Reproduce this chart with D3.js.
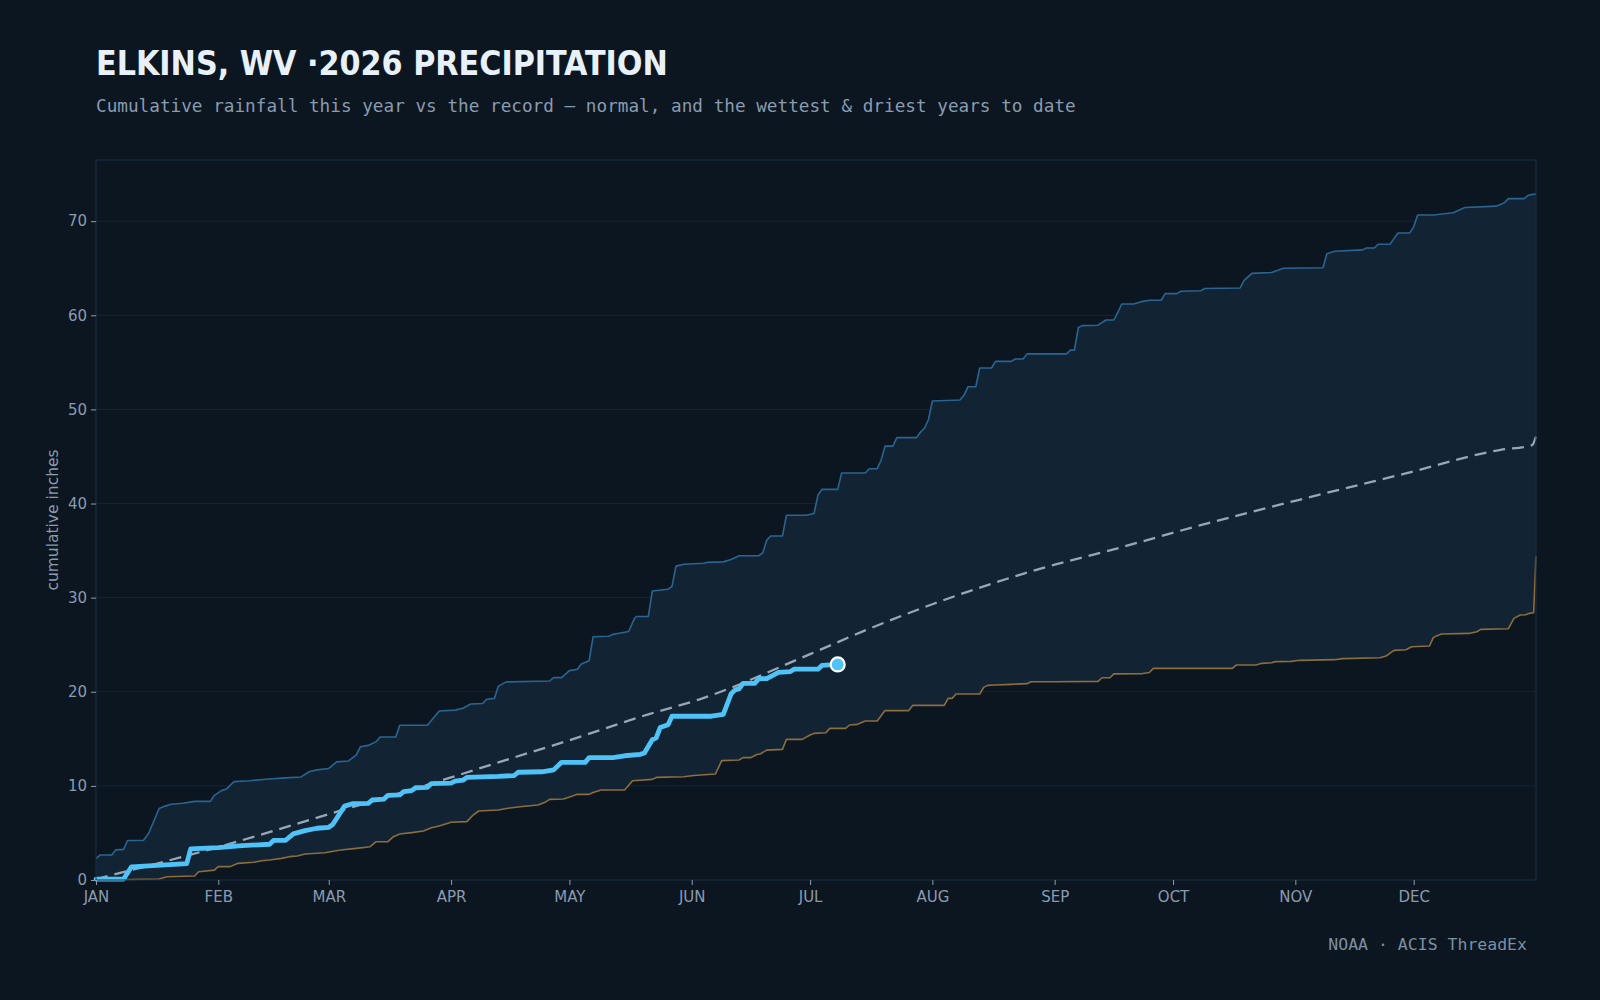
<!DOCTYPE html>
<html>
<head>
<meta charset="utf-8">
<script src="https://cdn.jsdelivr.net/npm/d3@7"></script>
<style>
  html, body { margin: 0; padding: 0; background: #0c1620; }
  svg { display: block; }
</style>
</head>
<body>
<div id="chart"></div>
<script>
// month ticks (day-of-year of each month start)
const monthStarts = [0, 31, 59, 90, 120, 151, 181, 212, 243, 273, 304, 334];
const monthLabels = ["JAN", "FEB", "MAR", "APR", "MAY", "JUN", "JUL", "AUG", "SEP", "OCT", "NOV", "DEC"];
const yTicks = [0, 10, 20, 30, 40, 50, 60, 70];

// [day of year, cumulative inches]
const thisYear = [
  [0, 0.1], [7, 0.1], [9, 1.4], [23, 1.75], [24, 3.3], [31, 3.45], [37, 3.65], [44, 3.8], [45, 4.2],
  [48, 4.2], [50, 4.9], [53, 5.25], [56, 5.5], [59, 5.6], [60, 5.9], [63, 7.85], [65, 8.1], [69, 8.15],
  [70, 8.5], [73, 8.6], [74, 9.0], [77, 9.05], [78, 9.4], [80, 9.5], [81, 9.8], [84, 9.85], [85, 10.25],
  [90, 10.3], [91, 10.5], [93, 10.6], [94, 10.9], [102, 11.0], [106, 11.1], [107, 11.45], [113, 11.5],
  [116, 11.7], [118, 12.5], [124, 12.5], [125, 13.0], [131, 13.0], [134, 13.2], [138, 13.35], [139, 13.5],
  [141, 14.9], [142, 15.1], [143, 16.2], [145, 16.5], [146, 17.4], [156, 17.4], [159, 17.6], [161, 19.8],
  [162, 20.2], [163, 20.3], [164, 20.9], [167, 20.9], [168, 21.4], [170, 21.4], [173, 22.05], [176, 22.15],
  [177, 22.4], [183, 22.4], [184, 22.8], [188, 22.9]
];

const normal = [
  [0, 0.1], [31, 3.5], [59, 7.0], [90, 10.9], [102, 12.5], [120, 14.85], [140, 17.6], [153, 19.2],
  [181, 24.0], [196, 26.7], [212, 29.3], [243, 33.5], [255, 34.8], [280, 37.7], [305, 40.4], [331, 43.1],
  [356, 45.7], [364, 46.2], [365, 47.1]
];

const wettest = [
  [0, 2.3], [1, 2.65], [4, 2.65], [5, 3.2], [7, 3.25], [8, 4.2], [12, 4.2], [13.4, 5.0], [14.8, 6.4],
  [16, 7.6], [17.5, 7.85], [19, 8.05], [22, 8.15], [25, 8.35], [29, 8.35], [30, 9.0], [32, 9.55], [33, 9.65],
  [35, 10.45], [39, 10.55], [43, 10.7], [48, 10.85], [52, 10.95], [54, 11.5], [56, 11.7], [59, 11.85],
  [61, 12.55], [64, 12.65], [66, 13.3], [67, 14.15], [69, 14.3], [71, 14.7], [72, 15.2], [76, 15.2],
  [77, 16.45], [84, 16.45], [87, 17.95], [91, 18.05], [93, 18.25], [95, 18.7], [98, 18.75], [99, 19.2],
  [101, 19.3], [102, 20.6], [104, 21.05], [115, 21.15], [116, 21.5], [118, 21.5], [120, 22.25], [122, 22.4],
  [123, 22.95], [125, 23.3], [126, 25.85], [130, 25.9], [131, 26.1], [133, 26.25], [135, 26.4], [136.5, 27.8],
  [137, 28.0], [140, 28.0], [141, 30.7], [145, 30.9], [146, 31.2], [147, 33.35], [149, 33.55], [154, 33.65],
  [155, 33.75], [159, 33.8], [161, 34.05], [163, 34.45], [168, 34.45], [169, 34.75], [170, 36.1], [171, 36.55],
  [174, 36.55], [175, 38.75], [180, 38.75], [182, 38.95], [183, 40.9], [184, 41.5], [188, 41.5], [189, 43.25],
  [195, 43.25], [196, 43.7], [198, 43.7], [199, 44.6], [200, 46.1], [202, 46.1], [203, 47.0], [208, 47.0],
  [209, 47.6], [210, 48.0], [211, 48.9], [212, 50.9], [219, 51.0], [220, 51.5], [221, 52.4], [223, 52.4],
  [224, 54.4], [227, 54.4], [228, 55.1], [232, 55.1], [233, 55.35], [235, 55.35], [236, 55.9], [246, 55.9],
  [247, 56.3], [248, 56.3], [249, 58.7], [250, 58.9], [254, 58.95], [256, 59.5], [258, 59.5], [259, 60.3],
  [260, 61.2], [263, 61.2], [265, 61.45], [267, 61.6], [270, 61.6], [271, 62.3], [274, 62.3], [275, 62.55],
  [280, 62.6], [281, 62.85], [290, 62.9], [291, 63.7], [293, 64.45], [298, 64.55], [301, 65.0], [311, 65.05],
  [312, 66.55], [314, 66.8], [321, 66.95], [322, 67.15], [324, 67.15], [325, 67.55], [328, 67.55], [329, 68.15],
  [330, 68.75], [333, 68.75], [334, 69.4], [335, 70.65], [339, 70.65], [344, 70.9], [347, 71.45], [355, 71.6],
  [357, 71.95], [358, 72.4], [362, 72.4], [363, 72.75], [365, 72.9]
];

const driest = [
  [0, 0], [16, 0.1], [18, 0.35], [25, 0.42], [26, 0.88], [30, 1.05], [31, 1.42], [34, 1.42], [36, 1.77],
  [40, 1.88], [42, 2.05], [44, 2.12], [47, 2.3], [49, 2.48], [51, 2.55], [53, 2.76], [58, 2.9], [62, 3.19],
  [66, 3.36], [69.5, 3.54], [71, 4.07], [74, 4.07], [75.4, 4.6], [77, 4.89], [80, 5.03], [83, 5.2], [85, 5.56],
  [87, 5.74], [90, 6.13], [94, 6.2], [95.6, 6.9], [97, 7.33], [102, 7.44], [104, 7.6], [107.5, 7.79], [112, 7.97],
  [114, 8.3], [115, 8.57], [118.5, 8.6], [120.6, 8.9], [122, 9.1], [125, 9.1], [126, 9.3], [128, 9.56],
  [134, 9.56], [136, 10.55], [141, 10.69], [142, 10.9], [149, 10.97], [151.5, 11.11], [157, 11.26],
  [158.6, 12.68], [163, 12.75], [164, 13.0], [166, 13.0], [167.5, 13.34], [168.3, 13.38], [170, 13.8],
  [174, 13.88], [175, 14.94], [179, 14.94], [181, 15.4], [182, 15.58], [185, 15.65], [186, 16.11], [190, 16.11],
  [191, 16.47], [193, 16.54], [195, 16.9], [198, 16.9], [200, 18.0], [206, 18.0], [207, 18.55], [215, 18.55],
  [216, 19.3], [217, 19.3], [218, 19.76], [224, 19.76], [225, 20.47], [226, 20.68], [228, 20.72], [232, 20.79],
  [236, 20.86], [237, 21.07], [243, 21.07], [254, 21.1], [255, 21.49], [257, 21.49], [258, 21.9], [265, 21.92],
  [267, 22.05], [268, 22.48], [288, 22.48], [289, 22.84], [294, 22.84], [295.5, 23.02], [298, 23.09],
  [299, 23.2], [303, 23.23], [305, 23.34], [314, 23.41], [316, 23.52], [325.5, 23.62], [327, 23.8], [329, 24.4],
  [332, 24.47], [333.5, 24.79], [338, 24.86], [339, 25.78], [341, 26.13], [348, 26.2], [350, 26.38],
  [351, 26.63], [358, 26.7], [359.4, 27.8], [361, 28.15], [362.4, 28.19], [363.3, 28.33], [364.4, 28.4],
  [365, 34.4]
];

const W = 1600, H = 1000;
const m = { top: 160, right: 64, bottom: 120, left: 96 };
const pw = W - m.left - m.right;
const ph = H - m.top - m.bottom;

const svg = d3.select("#chart").append("svg").attr("width", W).attr("height", H);
svg.append("rect").attr("width", W).attr("height", H).attr("fill", "#0c1620");

const x = d3.scaleLinear().domain([0, 365]).range([0, pw]);
const y = d3.scaleLinear().domain([0, 76.5]).range([ph, 0]);

const g = svg.append("g").attr("transform", `translate(${m.left},${m.top})`);

// gridlines
g.append("g")
  .selectAll("line")
  .data(yTicks.filter((d) => d > 0))
  .enter()
  .append("line")
  .attr("x1", 0)
  .attr("x2", pw)
  .attr("y1", (d) => y(d))
  .attr("y2", (d) => y(d))
  .attr("stroke", "#142636")
  .attr("stroke-width", 1);

const line = d3.line().x((d) => x(d[0])).y((d) => y(d[1]));

// record band: wettest forward, driest back
g.append("path")
  .attr("d", line(wettest.concat(driest.slice().reverse())) + "Z")
  .attr("fill", "#122334");

g.append("path")
  .datum(wettest)
  .attr("fill", "none")
  .attr("stroke", "#2a6592")
  .attr("stroke-width", 1.6)
  .attr("stroke-linejoin", "round")
  .attr("d", line);

g.append("path")
  .datum(driest)
  .attr("fill", "none")
  .attr("stroke", "#8c6d3e")
  .attr("stroke-width", 1.6)
  .attr("stroke-linejoin", "round")
  .attr("d", line);

g.append("path")
  .datum(normal)
  .attr("fill", "none")
  .attr("stroke", "#98a7b5")
  .attr("stroke-width", 2.3)
  .attr("stroke-dasharray", "12,7")
  .attr("d", line.curve(d3.curveMonotoneX));
line.curve(d3.curveLinear);

g.append("path")
  .datum(thisYear)
  .attr("fill", "none")
  .attr("stroke", "#4fc3f7")
  .attr("stroke-width", 4.8)
  .attr("stroke-linejoin", "round")
  .attr("stroke-linecap", "round")
  .attr("d", line);

const last = thisYear[thisYear.length - 1];
g.append("circle")
  .attr("cx", x(last[0]))
  .attr("cy", y(last[1]))
  .attr("r", 7)
  .attr("fill", "#4fc3f7")
  .attr("stroke", "#ffffff")
  .attr("stroke-width", 2.2);

// frame
g.append("rect")
  .attr("width", pw)
  .attr("height", ph)
  .attr("fill", "none")
  .attr("stroke", "#1a3044")
  .attr("stroke-width", 1);

// axes
const xAxis = d3.axisBottom(x)
  .tickValues(monthStarts)
  .tickFormat((d, i) => monthLabels[i])
  .tickSize(5)
  .tickPadding(6);
const yAxis = d3.axisLeft(y).tickValues(yTicks).tickSize(5).tickPadding(4);

const gx = g.append("g").attr("transform", `translate(0,${ph})`).call(xAxis);
const gy = g.append("g").call(yAxis);
[gx, gy].forEach((a) => {
  a.select(".domain").remove();
  a.selectAll(".tick line").attr("stroke", "#8a9bb0");
  a.selectAll("text")
    .attr("fill", "#8a9bb0")
    .style("font-family", "'DejaVu Sans', sans-serif")
    .style("font-size", "15px");
});

g.append("text")
  .attr("transform", `translate(${-38},${ph / 2}) rotate(-90)`)
  .attr("text-anchor", "middle")
  .attr("fill", "#8a9bb0")
  .style("font-family", "'DejaVu Sans', sans-serif")
  .style("font-size", "15.5px")
  .text("cumulative inches");

// titles
const title = svg.append("text")
  .attr("x", 96)
  .attr("y", 75)
  .attr("fill", "#e8f1fa")
  .style("font-family", "'DejaVu Sans', sans-serif")
  .style("font-weight", "bold")
  .style("font-stretch", "condensed")
  .style("font-size", "34px")
  .text("ELKINS, WV ·2026 PRECIPITATION");
const tw = title.node().getComputedTextLength();
title.style("font-size", (34 * 572 / tw).toFixed(2) + "px");

svg.append("text")
  .attr("x", 96)
  .attr("y", 112)
  .attr("fill", "#8a9bb0")
  .style("font-family", "'DejaVu Sans Mono', monospace")
  .style("font-size", "17.7px")
  .text("Cumulative rainfall this year vs the record — normal, and the wettest & driest years to date");

svg.append("text")
  .attr("x", 1527)
  .attr("y", 950)
  .attr("text-anchor", "end")
  .attr("fill", "#7d8fa3")
  .style("font-family", "'DejaVu Sans Mono', monospace")
  .style("font-size", "16.5px")
  .text("NOAA · ACIS ThreadEx");
</script>
</body>
</html>
